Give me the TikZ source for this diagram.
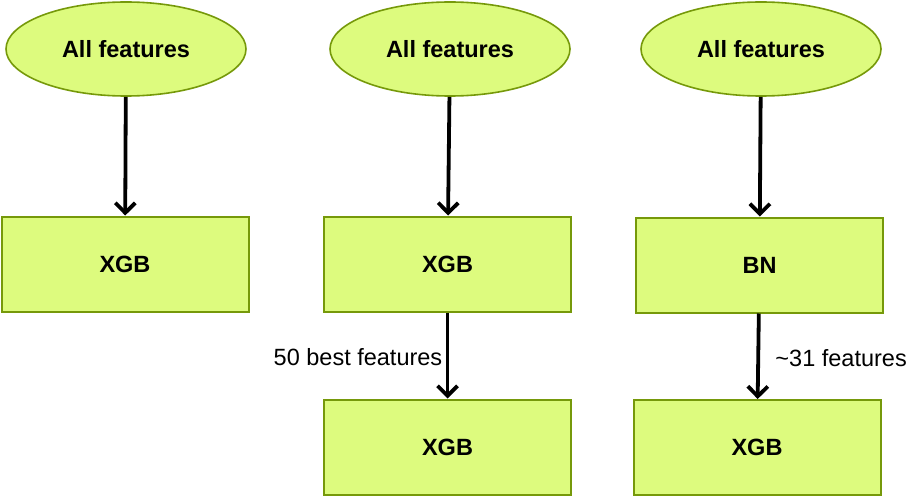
\documentclass[tikz,border=0pt]{standalone}
\usepackage{fontspec}
\setmainfont{Liberation Sans}
\usetikzlibrary{arrows.meta,positioning,shapes.geometric}
\definecolor{limefill}{HTML}{DDFB7E}
\definecolor{oliveedge}{HTML}{76990A}

\begin{document}
\begin{tikzpicture}[x=1pt,y=-1pt,
    font=\fontsize{23.5}{28}\selectfont,
    featnode/.style={ellipse,draw=oliveedge,fill=limefill,line width=1.6pt,
      minimum width=240pt,minimum height=94pt,font=\fontsize{23.5}{28}\selectfont\bfseries},
    modelbox/.style={rectangle,draw=oliveedge,fill=limefill,line width=2pt,
      minimum width=247pt,minimum height=95pt,font=\fontsize{23.5}{28}\selectfont\bfseries},
    flow/.style={line width=3.8pt,-{Straight Barb[length=10pt,width=20pt]}}]
  \useasboundingbox (0,0) rectangle (923,497);
  % inputs
  \node[featnode] (all1) at (126,49) {All features};
  \node[featnode] (all2) at (450,49) {All features};
  \node[featnode] (all3) at (761,49) {All features};
  % models
  \node[modelbox] (xgb1) at (125,264) {XGB};
  \node[modelbox] (xgb2) at (447.5,264) {XGB};
  \node[modelbox] (bn3) at (759.5,265) {BN};
  \node[modelbox] (xgb2b) at (447.5,447) {XGB};
  \node[modelbox] (xgb3b) at (757,447.5) {XGB};
  \draw[flow] (all1) -- (xgb1);
  \draw[flow] (all2) -- (xgb2);
  \draw[flow] (all3) -- (bn3);
  \draw[flow] (xgb2) -- node[left=0pt,yshift=-2pt] {50 best features} (xgb2b);
  \draw[flow] (bn3) -- node[right=12pt,yshift=-2pt] {\textasciitilde31 features} (xgb3b);
\end{tikzpicture}
\end{document}
